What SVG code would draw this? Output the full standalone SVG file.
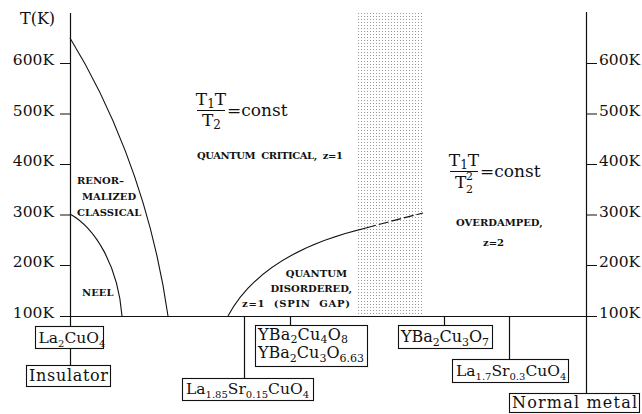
<svg xmlns="http://www.w3.org/2000/svg" width="642" height="414" viewBox="0 0 642 414">
<style>
.ax{stroke:#111;stroke-width:1.2;fill:none}
.cv{stroke:#111;stroke-width:1.1;fill:none}
.tk{font-family:"DejaVu Serif","Liberation Serif",serif;font-size:15.5px;fill:#111}
.lb{font-family:"DejaVu Serif","Liberation Serif",serif;font-size:10px;font-weight:bold;fill:#111}
.fm{font-family:"DejaVu Serif","Liberation Serif",serif;font-size:17px;fill:#111}
.bx{fill:#fff;stroke:#111;stroke-width:1.1}
.bt{font-family:"DejaVu Serif","Liberation Serif",serif;font-size:16px;fill:#111}
.bn{font-family:"DejaVu Serif","Liberation Serif",serif;font-size:15.5px;fill:#111}
.s{font-size:11px}
.bn .s{font-size:10px}
.fm .s{font-size:12px}
.fm .t{font-size:11px}
</style>
<defs>
<pattern id="dots" width="3" height="3" patternUnits="userSpaceOnUse">
<rect x="1" y="1" width="1" height="1" fill="#999"/>
</pattern>
</defs>
<rect width="642" height="414" fill="#fff"/>
<rect id="crossover" x="358" y="13" width="65" height="303" fill="url(#dots)"/>
<g id="axes">
<line class="ax" x1="70.5" y1="13" x2="70.5" y2="365"/>
<line class="ax" x1="586.5" y1="12" x2="586.5" y2="393"/>
<line class="ax" x1="60" y1="316.5" x2="597" y2="316.5"/>
<path class="ax" d="M60,265.5H70.5M60,215H70.5M60,164.5H70.5M60,114H70.5M60,63.5H70.5"/>
<path class="ax" d="M586.5,265.5H597M586.5,215H597M586.5,164.5H597M586.5,114H597M586.5,63.5H597"/>
</g>
<g id="ticklabels" class="tk">
<text x="20" y="24" font-size="16">T(K)</text>
<g text-anchor="end">
<text x="54" y="65">600K</text>
<text x="54" y="116">500K</text>
<text x="54" y="166">400K</text>
<text x="54" y="217">300K</text>
<text x="54" y="267">200K</text>
<text x="54" y="318">100K</text>
</g>
<text x="599" y="65">600K</text>
<text x="599" y="116">500K</text>
<text x="599" y="166">400K</text>
<text x="599" y="217">300K</text>
<text x="599" y="267">200K</text>
<text x="599" y="318">100K</text>
</g>
<g id="curves">
<path class="cv" d="M70,38 C105,95 150,190 168,316"/>
<path class="cv" d="M70,214 C95,228 118,265 122,316"/>
<path class="cv" d="M228,316 C248,279 290,246 366,228"/>
<path class="cv" stroke-dasharray="10 3" d="M366,228 Q395,220 423,213"/>
</g>
<g id="regions" class="lb">
<text x="77" y="184">RENOR–</text>
<text x="82" y="200">MALIZED</text>
<text x="77" y="216">CLASSICAL</text>
<text x="82" y="296">NEEL</text>
<text x="197" y="159" xml:space="preserve" textLength="146">QUANTUM  CRITICAL,  z=1</text>
<g text-anchor="end">
<text x="347" y="277">QUANTUM</text>
<text x="352" y="292">DISORDERED,</text>
</g>
<text x="242" y="307" xml:space="preserve" textLength="108">z=1  (SPIN  GAP)</text>
<text x="456" y="226">OVERDAMPED,</text>
<text x="483" y="246">z=2</text>
</g>
<g id="formula1" class="fm">
<text x="211" y="105" text-anchor="middle">T<tspan class="s" dy="3">1</tspan><tspan dy="-3">T</tspan></text>
<line x1="197" y1="110.5" x2="225" y2="110.5" stroke="#111" stroke-width="1"/>
<text x="202" y="126">T<tspan class="s" dy="3">2</tspan></text>
<text x="227" y="116">=const</text>
</g>
<g id="formula2" class="fm">
<text x="464" y="166" text-anchor="middle">T<tspan class="s" dy="3">1</tspan><tspan dy="-3">T</tspan></text>
<line x1="450" y1="171.5" x2="478" y2="171.5" stroke="#111" stroke-width="1"/>
<text x="455" y="188">T<tspan class="t" x="466" y="193">2</tspan></text>
<text class="t" x="466" y="180">2</text>
<text x="480" y="177">=const</text>
</g>
<g id="connectors">
<line class="ax" x1="244.5" y1="316" x2="244.5" y2="378"/>
<line class="ax" x1="290.5" y1="316" x2="290.5" y2="325"/>
<line class="ax" x1="444.5" y1="316" x2="444.5" y2="325"/>
<line class="ax" x1="509.5" y1="316" x2="509.5" y2="359"/>
</g>
<g id="La2CuO4">
<rect class="bx" x="35.5" y="326.5" width="68" height="22"/>
<text class="bn" x="38.5" y="343">La<tspan class="s" dy="4">2</tspan><tspan dy="-4">CuO</tspan><tspan class="s" dy="4">4</tspan></text>
</g>
<g id="Insulator">
<rect class="bx" x="26.5" y="365.5" width="84" height="21"/>
<text class="bt" x="29" y="381" textLength="79">Insulator</text>
</g>
<g id="LSCO015">
<rect class="bx" x="182.5" y="378.5" width="131" height="22"/>
<text class="bn" x="186" y="394">La<tspan class="s" dy="4">1.85</tspan><tspan dy="-4">Sr</tspan><tspan class="s" dy="4">0.15</tspan><tspan dy="-4">CuO</tspan><tspan class="s" dy="4">4</tspan></text>
</g>
<g id="YBCO124">
<rect class="bx" x="255.5" y="325.5" width="112" height="41"/>
<text class="bt" x="258" y="340" textLength="90">YBa<tspan class="s" dy="3">2</tspan><tspan dy="-3">Cu</tspan><tspan class="s" dy="3">4</tspan><tspan dy="-3">O</tspan><tspan class="s" dy="3">8</tspan></text>
<text class="bt" x="258" y="358">YBa<tspan class="s" dy="4">2</tspan><tspan dy="-4">Cu</tspan><tspan class="s" dy="4">3</tspan><tspan dy="-4">O</tspan><tspan class="s" dy="4">6.63</tspan></text>
</g>
<g id="YBCO7">
<rect class="bx" x="398.5" y="325.5" width="94" height="23"/>
<text class="bt" x="401" y="342" textLength="88">YBa<tspan class="s" dy="4">2</tspan><tspan dy="-4">Cu</tspan><tspan class="s" dy="4">3</tspan><tspan dy="-4">O</tspan><tspan class="s" dy="4">7</tspan></text>
</g>
<g id="LSCO03">
<rect class="bx" x="452.5" y="359.5" width="116" height="23"/>
<text class="bn" x="456" y="376">La<tspan class="s" dy="4">1.7</tspan><tspan dy="-4">Sr</tspan><tspan class="s" dy="4">0.3</tspan><tspan dy="-4">CuO</tspan><tspan class="s" dy="4">4</tspan></text>
</g>
<g id="NormalMetal">
<rect class="bx" x="509.5" y="393.5" width="130" height="19"/>
<text class="bt" x="512" y="408" textLength="125">Normal metal</text>
</g>
</svg>
